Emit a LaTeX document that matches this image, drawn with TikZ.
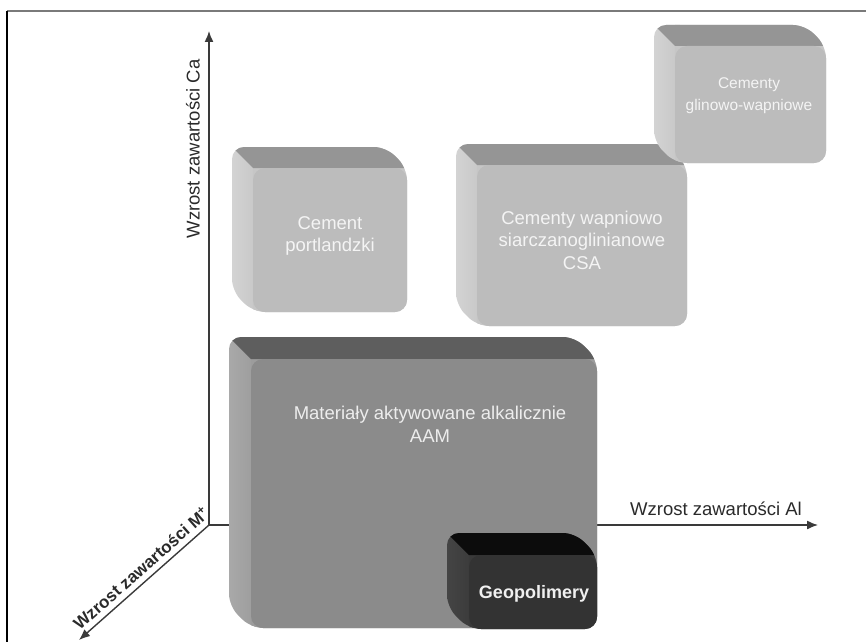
\documentclass[tikz,border=0pt]{standalone}
\usepackage{fontspec}
\setmainfont{Liberation Sans}
\usetikzlibrary{arrows.meta}
\definecolor{FrameGrey}{HTML}{7A7A7A}
\definecolor{AxisGrey}{HTML}{3A3A3A}
\definecolor{LabelGrey}{HTML}{2A2A2A}
\definecolor{LightSide}{HTML}{C6C6C6}
\definecolor{LightSideL}{HTML}{D6D6D6}
\definecolor{LightTop}{HTML}{959595}
\definecolor{LightFront}{HTML}{BCBCBC}
\definecolor{LightText}{HTML}{F4F4F4}
\definecolor{AAMSide}{HTML}{9C9C9C}
\definecolor{AAMSideL}{HTML}{ABABAB}
\definecolor{AAMTop}{HTML}{5E5E5E}
\definecolor{AAMFront}{HTML}{8B8B8B}
\definecolor{AAMText}{HTML}{EDEDED}
\definecolor{GeoSide}{HTML}{3A3A3A}
\definecolor{GeoSideL}{HTML}{464646}
\definecolor{GeoTop}{HTML}{0C0C0C}
\definecolor{GeoFront}{HTML}{333333}
\definecolor{GeoText}{HTML}{F0F0F0}

% rounded block: front face (#1,#2)-(#3,#4), depth #5, colour set #6
\newcommand{\cubebox}[6]{%
  \begin{scope}
    \path[clip, rounded corners=12pt] (#1-#5,#2-#5) -- (#3-#5,#2-#5) -- (#3,#2)
      -- (#3,#4) -- (#1,#4) -- (#1-#5,#4-#5) -- cycle;
    \shade[left color=#6SideL, right color=#6Side] (#1-#5-5,#2-#5-5) rectangle (#1+5,#4+5);
    \fill[#6Side] (#1,#2-#5-5) rectangle (#3+5,#4+5);
    \fill[#6Top] (#1-#5-10,#2-#5-10) -- (#3+10,#2-#5-10) -- (#3+10,#2) -- (#1,#2) -- cycle;
  \end{scope}
  \fill[#6Front, rounded corners=12pt] (#1,#2) rectangle (#3,#4);
}

\begin{document}
\begin{tikzpicture}[x=1pt, y=-1pt,
  axisline/.style={draw=AxisGrey, line width=1.4pt, -{Latex[length=11pt,width=9pt]}},
  axislabel/.style={font=\fontsize{18.5}{22}\selectfont, text=LabelGrey, inner sep=0pt},
  blocktext/.style={font=\fontsize{18.5}{22.5}\selectfont, align=center, inner sep=0pt},
]
  \useasboundingbox (0,0) rectangle (866,642);

  % frame
  \draw[FrameGrey, line width=1.5pt] (7,11) -- (866,11);
  \draw[black, line width=1.5pt] (7,11) -- (7,642);

  % axes
  \coordinate (origin) at (209,525);
  \coordinate (ytip) at (209,31);
  \coordinate (xtip) at (818,525);
  \coordinate (ztip) at (79,640);
  \draw[axisline] (origin) -- (ytip);
  \draw[axisline] (origin) -- (xtip);
  \draw[axisline] (origin) -- (ztip);

  \node[axislabel, rotate=90] (ylabel) at (193,149) {Wzrost zawartości Ca};
  \node[axislabel, anchor=base] (xlabel) at (716,515) {Wzrost zawartości Al};
  \node[axislabel, rotate=41.5, font=\bfseries\fontsize{17}{20}\selectfont] (zlabel) at (141,568)
    {Wzrost zawartości M\textsuperscript{+}};

  % blocks
  \cubebox{253}{168}{407}{312}{21}{Light}
  \node[blocktext, text=LightText] (portland) at (330,236) {Cement\\portlandzki};

  \cubebox{477}{165}{687}{326}{21}{Light}
  \node[blocktext, text=LightText] (csa) at (582,240)
    {Cementy wapniowo\\siarczanoglinianowe\\CSA};

  \cubebox{675}{46}{826}{163}{21}{Light}
  \node[blocktext, text=LightText, font=\fontsize{15.5}{22}\selectfont] (cag) at (749,96)
    {Cementy\\glinowo-wapniowe};

  \cubebox{251}{359}{597}{628}{22}{AAM}
  \node[blocktext, text=AAMText] (aam) at (430,424.5)
    {Materiały aktywowane alkalicznie\\AAM};

  \cubebox{469}{555}{597}{629}{22}{Geo}
  \node[blocktext, text=GeoText, font=\bfseries\fontsize{18}{22}\selectfont] (geo) at (534,594)
    {Geopolimery};
\end{tikzpicture}
\end{document}
